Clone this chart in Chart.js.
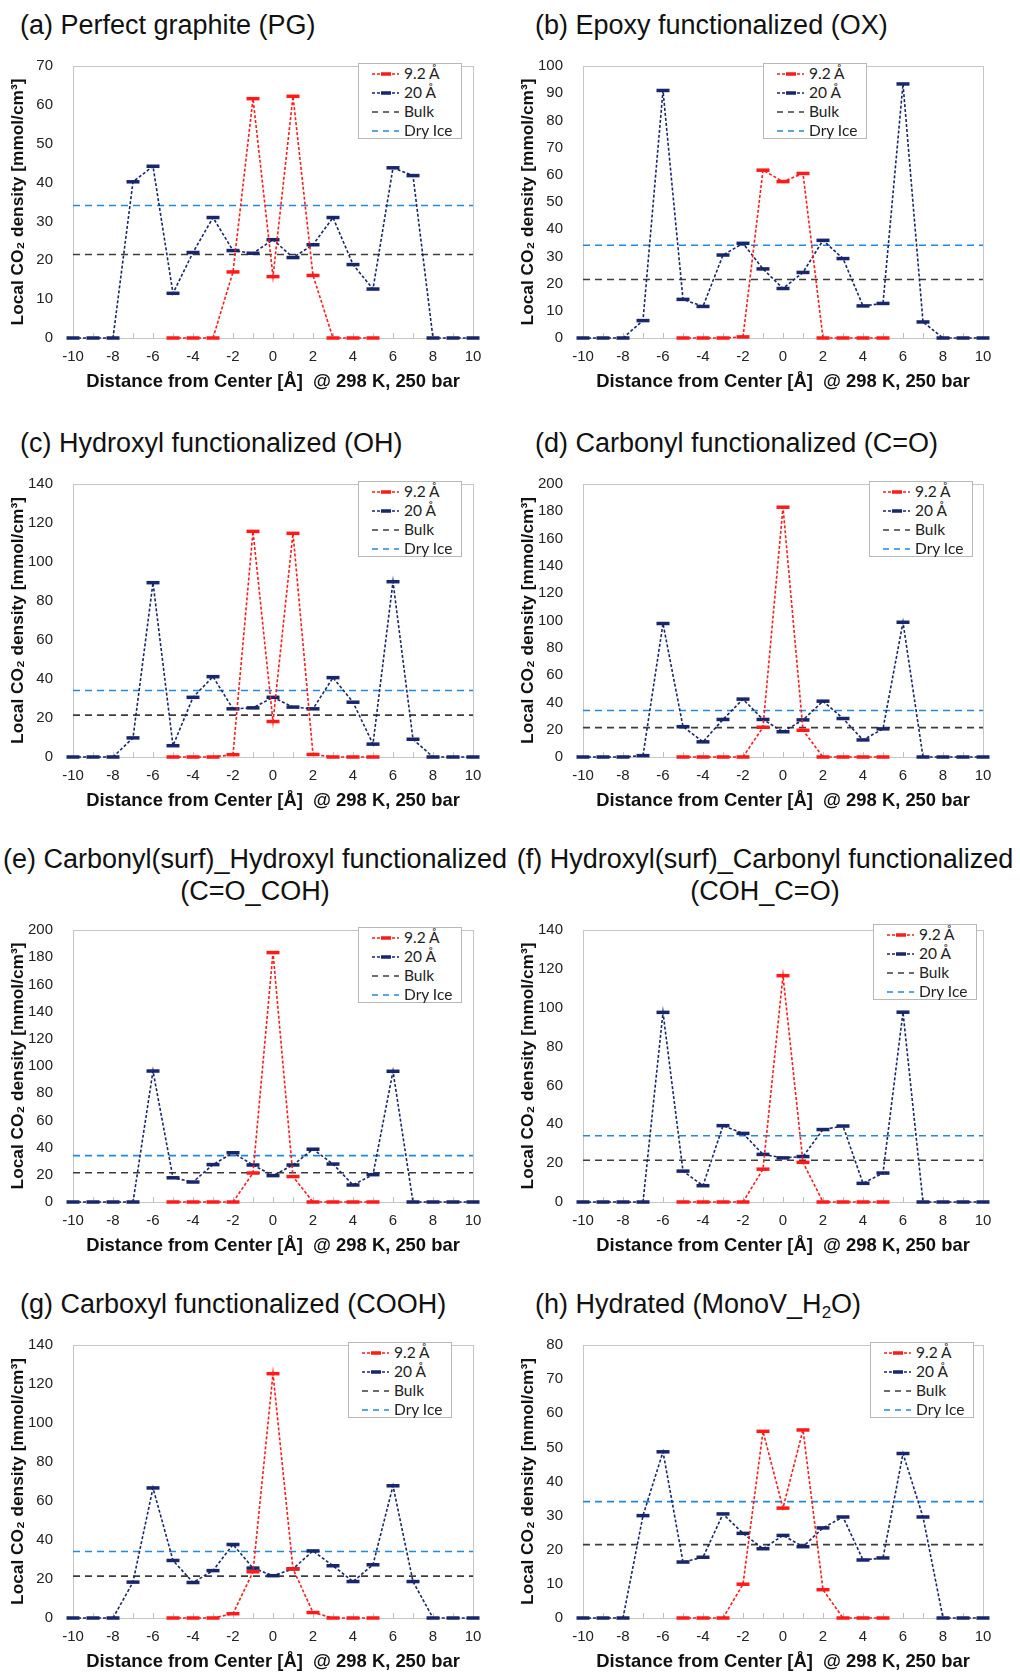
<!DOCTYPE html>
<html lang="en">
<head>
<meta charset="UTF-8" />
<title>Local CO2 density profiles</title>
<script src="https://cdn.jsdelivr.net/npm/chart.js"></script>
<style>
  body { margin: 0; background: #fff; }
  #figure { position: relative; width: 1020px; height: 1673px; font-family: 'Liberation Sans', Arial, sans-serif; color: #111; }
  .panel-title { position: absolute; font-size: 27px; line-height: 30px; white-space: nowrap; }
  .panel-title.center { text-align: center; width: 510px; }
  .panel-title sub { font-size: 17px; vertical-align: -5px; line-height: 0; }
  canvas { position: absolute; }
  .legend { position: absolute; width: 104px; height: 76px; border: 1px solid #b8b8b8; background: #fff; box-sizing: border-box;
            font-family: Lato, 'Open Sans', sans-serif; font-size: 15.5px; color: #222; }
  .legend .row { height: 19px; line-height: 19px; display: flex; align-items: center; }
  .legend svg { margin-left: 13px; margin-right: 5px; }
</style>
</head>
<body>
<div id="figure"></div>

<script>
  // x positions (Å from pore center)
  const distance20 = [-10,-9,-8,-7,-6,-5,-4,-3,-2,-1,0,1,2,3,4,5,6,7,8,9,10];
  const distance92 = [-5,-4,-3,-2,-1,0,1,2,3,4,5];

  // reference densities (mmol/cm3)
  const bulkDensity = 21.5;
  const dryIceDensity = 34.1;

  // (a) perfect graphite
  const pg20 = [0,0,0,40.2,44.2,11.5,22.0,31.0,22.5,21.8,25.3,20.7,24.0,31.0,18.9,12.6,43.8,41.8,0,0,0];
  const pg92 = [0,0,0,17.0,61.6,15.8,62.2,16.1,0,0,0];
  // (b) epoxy
  const ox20 = [0,0,0,6.4,91.0,14.2,11.6,30.5,34.8,25.4,18.2,24.1,35.9,29.2,11.8,12.7,93.4,5.9,0,0,0];
  const ox92 = [0,0,0,0.4,61.7,57.5,60.5,0,0,0,0];
  // (c) hydroxyl
  const oh20 = [0,0,0,9.8,89.4,5.8,30.6,41.2,24.7,25.2,30.6,25.6,24.7,40.7,28.1,6.6,89.9,9.1,0,0,0];
  const oh92 = [0,0,0,1.2,115.7,18.2,114.7,1.3,0,0,0];
  // (d) carbonyl
  const co20 = [0,0,0,1.0,97.8,22.2,11.1,27.5,42.4,27.5,18.5,27.2,40.9,28.2,12.5,20.6,98.7,0,0,0,0];
  const co92 = [0,0,0,0,21.8,183.0,19.6,0,0,0,0];
  // (e) carbonyl(surf)_hydroxyl
  const coCoh20 = [0,0,0,0,96.3,17.8,14.7,27.5,36.2,27.2,19.4,27.2,38.8,27.9,12.5,20.1,96.1,0,0,0,0];
  const coCoh92 = [0,0,0,0,21.3,183.4,18.7,0,0,0,0];
  // (f) hydroxyl(surf)_carbonyl
  const cohCo20 = [0,0,0,0,97.6,15.9,8.4,39.3,35.3,24.5,22.7,23.4,37.3,39.1,9.6,14.9,97.7,0,0,0,0];
  const cohCo92 = [0,0,0,0,16.9,116.5,20.4,0,0,0,0];
  // (g) carboxyl
  const cooh20 = [0,0,0,18.4,66.7,29.5,18.2,24.3,37.7,25.6,21.7,25.2,34.4,26.8,18.7,27.3,67.8,18.7,0,0,0];
  const cooh92 = [0,0,0,2.2,23.7,125.3,25.2,2.8,0,0,0];
  // (h) hydrated
  const h2o20 = [0,0,0,30.0,48.7,16.4,17.8,30.5,24.8,20.3,24.2,20.9,26.4,29.6,17.0,17.6,48.2,29.6,0,0,0];
  const h2o92 = [0,0,0,9.9,54.7,32.2,55.1,8.3,0,0,0];

  const seriesNames = ['9.2 Å', '20 Å', 'Bulk', 'Dry Ice'];
  const xTitle = 'Distance from Center [Å]  @ 298 K, 250 bar';
  const yTitle = 'Local CO₂ density [mmol/cm³]';

  const RED = '#ff1a1a', NAVY = '#18266a', BULK = '#3c3c3c', ICE = '#2188dc';
  const FONT = "'Liberation Sans', Arial, sans-serif";

  // layout: row chart-area top/bottom in page pixels
  const rows = [[57, 338], [475, 757], [921, 1202], [1336, 1618]];

  const panels = [
    { title: '(a) Perfect graphite (PG)', d20: pg20, d92: pg92, ymax: 70, step: 10, row: 0, col: 0, legend: [358, 63] },
    { title: '(b) Epoxy functionalized (OX)', d20: ox20, d92: ox92, ymax: 100, step: 10, row: 0, col: 1, legend: [763, 63] },
    { title: '(c) Hydroxyl functionalized (OH)', d20: oh20, d92: oh92, ymax: 140, step: 20, row: 1, col: 0, legend: [358, 481] },
    { title: '(d) Carbonyl functionalized (C=O)', d20: co20, d92: co92, ymax: 200, step: 20, row: 1, col: 1, legend: [869, 481] },
    { title: '(e) Carbonyl(surf)_Hydroxyl functionalized<br>(C=O_COH)', d20: coCoh20, d92: coCoh92, ymax: 200, step: 20, row: 2, col: 0, legend: [358, 927], twoLine: true },
    { title: '(f) Hydroxyl(surf)_Carbonyl functionalized<br>(COH_C=O)', d20: cohCo20, d92: cohCo92, ymax: 140, step: 20, row: 2, col: 1, legend: [873, 924], twoLine: true },
    { title: '(g) Carboxyl functionalized (COOH)', d20: cooh20, d92: cooh92, ymax: 140, step: 20, row: 3, col: 0, legend: [348, 1342] },
    { title: '(h) Hydrated (MonoV_H<sub>2</sub>O)', d20: h2o20, d92: h2o92, ymax: 80, step: 10, row: 3, col: 1, legend: [870, 1342] }
  ];

  const frame = {
    id: 'frame',
    beforeDatasetsDraw(chart) {
      const { ctx, chartArea: a } = chart;
      ctx.save();
      ctx.strokeStyle = '#c6c6c6';
      ctx.lineWidth = 1;
      ctx.strokeRect(Math.round(a.left) + 0.5, Math.round(a.top) + 0.5, Math.round(a.width), Math.round(a.height));
      ctx.restore();
    }
  };

  const fig = document.getElementById('figure');

  function legendRow(color, name, marker) {
    const dash = marker ? '3 2' : '6 5';
    let svg = `<svg width="27" height="12"><line x1="0" y1="6" x2="27" y2="6" stroke="${color}" stroke-width="1.6" stroke-dasharray="${dash}"/>`;
    if (marker) svg += `<line x1="9" y1="6" x2="19" y2="6" stroke="${color}" stroke-width="3.5"/>`;
    return `<div class="row">${svg}</svg><span>${name}</span></div>`;
  }

  panels.forEach(p => {
    const [top, bottom] = rows[p.row];
    const left = p.col * 510;

    const t = document.createElement('div');
    t.className = 'panel-title' + (p.twoLine ? ' center' : '');
    t.innerHTML = p.title;
    if (p.twoLine) {
      t.style.left = left + 'px';
      t.style.top = (top - 78) + 'px';
      t.style.lineHeight = '32px';
    } else {
      t.style.left = (left + (p.col ? 25 : 20)) + 'px';
      t.style.top = (top - 47) + 'px';
    }
    fig.appendChild(t);

    const cv = document.createElement('canvas');
    const h = bottom - top + 12 + 56;
    cv.style.left = left + 'px';
    cv.style.top = (top - 12) + 'px';
    cv.style.width = '510px';
    cv.style.height = h + 'px';
    cv.width = 510; cv.height = h;
    fig.appendChild(cv);

    const lg = document.createElement('div');
    lg.className = 'legend';
    lg.style.left = p.legend[0] + 'px';
    lg.style.top = p.legend[1] + 'px';
    lg.innerHTML = legendRow(RED, seriesNames[0], true) + legendRow(NAVY, seriesNames[1], true) +
                   legendRow(BULK, seriesNames[2], false) + legendRow(ICE, seriesNames[3], false);
    fig.appendChild(lg);

    const pts = (xs, ys) => xs.map((x, i) => ({ x: x, y: ys[i] }));
    const marker = color => ({
      borderColor: color, backgroundColor: color, borderWidth: 1.6, borderDash: [3, 2],
      pointStyle: 'line', pointRadius: 6.5, pointBorderWidth: 3.5, pointBorderColor: color,
      pointHoverRadius: 6.5, clip: 10
    });
    const refLine = (color, value, name) => ({
      label: name, data: [{ x: -10, y: value }, { x: 10, y: value }],
      borderColor: color, borderWidth: 1.6, borderDash: [7, 5], pointRadius: 0
    });

    new Chart(cv, {
      type: 'line',
      data: {
        datasets: [
          Object.assign({ label: seriesNames[0], data: pts(distance92, p.d92) }, marker(RED)),
          Object.assign({ label: seriesNames[1], data: pts(distance20, p.d20) }, marker(NAVY)),
          refLine(BULK, bulkDensity, seriesNames[2]),
          refLine(ICE, dryIceDensity, seriesNames[3])
        ]
      },
      options: {
        responsive: false,
        animation: false,
        layout: { padding: { top: 12, right: 37, left: 0, bottom: 0 } },
        plugins: { legend: { display: false }, tooltip: { enabled: false } },
        scales: {
          x: {
            type: 'linear', min: -10, max: 10,
            afterFit: s => { s.height = 56; },
            ticks: { stepSize: 1, autoSkip: false, maxRotation: 0, padding: 15, color: '#222',
                     font: { family: FONT, size: 15 },
                     callback: v => (v % 2 === 0 ? String(v) : '') },
            grid: { drawOnChartArea: false, drawTicks: true, tickLength: -5, color: '#c0c0c0' },
            border: { display: false },
            title: { display: true, text: xTitle, color: '#111', padding: { bottom: 1 },
                     font: { family: FONT, size: 18.4, weight: 'bold' } }
          },
          y: {
            min: 0, max: p.ymax,
            afterFit: s => { s.width = 73; },
            ticks: { stepSize: p.step, padding: 12, color: '#222', font: { family: FONT, size: 15 } },
            grid: { display: false },
            border: { display: false },
            title: { display: true, text: yTitle, color: '#111', padding: { top: 8 },
                     font: { family: FONT, size: 17.3, weight: 'bold' } }
          }
        }
      },
      plugins: [frame]
    });
  });
</script>
</body>
</html>
